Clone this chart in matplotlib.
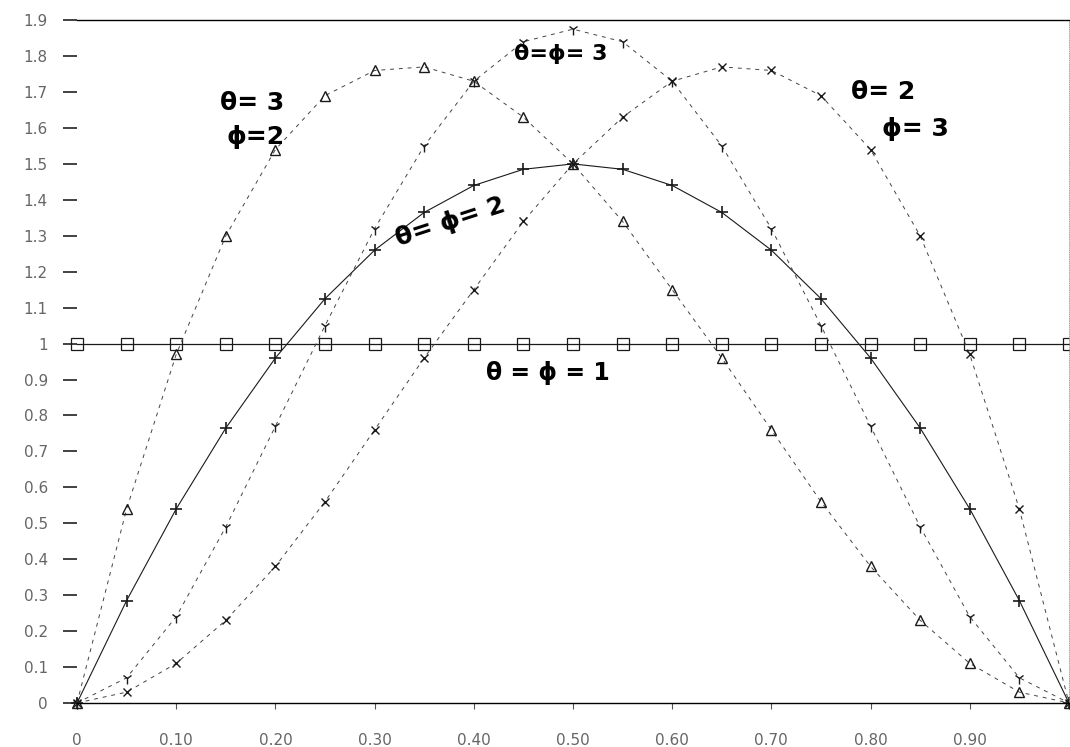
import matplotlib.pyplot as plt

# Densities at x = 0, 0.05, ..., 1.0
x_grid = [0.00, 0.05, 0.10, 0.15, 0.20, 0.25, 0.30, 0.35, 0.40, 0.45, 0.50,
          0.55, 0.60, 0.65, 0.70, 0.75, 0.80, 0.85, 0.90, 0.95, 1.00]
dens_11 = [1.0, 1.0, 1.0, 1.0, 1.0, 1.0, 1.0, 1.0, 1.0, 1.0, 1.0,
           1.0, 1.0, 1.0, 1.0, 1.0, 1.0, 1.0, 1.0, 1.0, 1.0]
dens_22 = [0.0, 0.285, 0.54, 0.765, 0.96, 1.125, 1.26, 1.365, 1.44, 1.485, 1.50,
           1.485, 1.44, 1.365, 1.26, 1.125, 0.96, 0.765, 0.54, 0.285, 0.0]
dens_33 = [0.0, 0.07, 0.24, 0.49, 0.77, 1.05, 1.32, 1.55, 1.73, 1.84, 1.875,
           1.84, 1.73, 1.55, 1.32, 1.05, 0.77, 0.49, 0.24, 0.07, 0.0]
dens_32 = [0.0, 0.54, 0.97, 1.30, 1.54, 1.69, 1.76, 1.77, 1.73, 1.63, 1.50,
           1.34, 1.15, 0.96, 0.76, 0.56, 0.38, 0.23, 0.11, 0.03, 0.0]
dens_23 = [0.0, 0.03, 0.11, 0.23, 0.38, 0.56, 0.76, 0.96, 1.15, 1.34, 1.50,
           1.63, 1.73, 1.77, 1.76, 1.69, 1.54, 1.30, 0.97, 0.54, 0.0]

y_ticks = [0.0, 0.1, 0.2, 0.3, 0.4, 0.5, 0.6, 0.7, 0.8, 0.9,
           1.0, 1.1, 1.2, 1.3, 1.4, 1.5, 1.6, 1.7, 1.8, 1.9]
y_tick_labels = ["0", "0.1", "0.2", "0.3", "0.4", "0.5", "0.6", "0.7", "0.8", "0.9",
                 "1", "1.1", "1.2", "1.3", "1.4", "1.5", "1.6", "1.7", "1.8", "1.9"]
x_ticks = [0.0, 0.1, 0.2, 0.3, 0.4, 0.5, 0.6, 0.7, 0.8, 0.9]
x_tick_labels = ["0", "0.10", "0.20", "0.30", "0.40", "0.50",
                 "0.60", "0.70", "0.80", "0.90"]

fig = plt.figure(figsize=(10.7, 7.47), dpi=100)
ax = fig.add_axes([0.072, 0.059, 0.927, 0.914])

ink = "#1a1a1a"
faint = "#444444"
dashed = (0, (4, 5))

ax.plot(x_grid, dens_11, color=ink, lw=0.9, marker="s", ms=8, mfc="none",
        mew=0.9, clip_on=False)
ax.plot(x_grid, dens_22, color=ink, lw=0.8, marker="+", ms=8, mew=1.2,
        mec=ink, clip_on=False)
ax.plot(x_grid, dens_33, color=faint, lw=0.7, ls=dashed, marker="1", ms=8,
        mew=1.0, mec=ink, clip_on=False)
ax.plot(x_grid, dens_32, color=faint, lw=0.7, ls=dashed, marker="^", ms=7,
        mfc="none", mew=1.0, mec=ink, clip_on=False)
ax.plot(x_grid, dens_23, color=faint, lw=0.7, ls=dashed, marker="x", ms=6,
        mew=1.0, mec=ink, clip_on=False)

# handwritten curve labels
lab = dict(fontsize=18, fontweight="bold", color="black", ha="center", va="center")
ax.text(0.177, 1.67, "θ= 3", **lab)
ax.text(0.18, 1.575, "ϕ=2", **lab)
ax.text(0.488, 1.805, "θ=ϕ= 3", fontsize=16, fontweight="bold", ha="center", va="center")
ax.text(0.376, 1.338, "θ= ϕ= 2", rotation=18, **lab)
ax.text(0.813, 1.70, "θ= 2", **lab)
ax.text(0.845, 1.597, "ϕ= 3", **lab)
ax.text(0.475, 0.918, "θ = ϕ = 1", fontsize=17, fontweight="bold", ha="center", va="center")

ax.set_xlim(0, 1)
ax.set_ylim(0, 1.9)
ax.set_yticks(y_ticks)
ax.set_yticklabels(y_tick_labels)
ax.set_xticks(x_ticks)
ax.set_xticklabels(x_tick_labels)
ax.tick_params(axis="y", length=10, width=1.3, pad=11, labelsize=11,
               labelcolor="#666666", color="#333333")
ax.tick_params(axis="x", length=4, width=0.8, pad=18, labelsize=11,
               labelcolor="#666666", color="#555555")

ax.spines["left"].set_visible(False)
ax.spines["right"].set_color("#999999")
ax.spines["right"].set_linestyle(":")
ax.spines["right"].set_linewidth(0.6)
ax.spines["top"].set_linewidth(1.0)
ax.spines["bottom"].set_linewidth(1.0)

plt.savefig("out.png", dpi=100)
